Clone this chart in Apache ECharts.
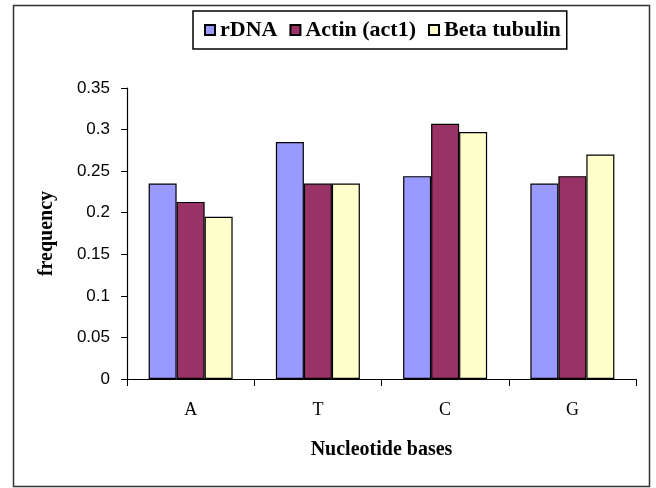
<!DOCTYPE html>
<html><head><meta charset="utf-8">
<script src="https://cdn.jsdelivr.net/npm/echarts@6/dist/echarts.min.js"></script>
<style>html,body{margin:0;padding:0;background:#fff}#c{width:656px;height:488px}</style>
</head><body><div id="c"></div>
<script>
const categories = ['A', 'T', 'C', 'G'];
const rDNA = [0.235, 0.285, 0.244, 0.235];
const actin = [0.213, 0.235, 0.307, 0.244];
const betaTubulin = [0.195, 0.235, 0.297, 0.270];
const seriesNames = ['rDNA', 'Actin (act1)', 'Beta tubulin'];

const chart = echarts.init(document.getElementById('c'));
const bar = (name, data, color) => ({
  name, type: 'bar', data, barGap: '0%', barCategoryGap: '34%',
  itemStyle: { color, borderColor: '#000', borderWidth: 1.2 }
});
chart.setOption({
  animation: false,
  backgroundColor: '#fff',
  graphic: [{
    type: 'rect', shape: { x: 13.5, y: 5.5, width: 636, height: 481 },
    style: { fill: 'none', stroke: '#333', lineWidth: 1.5 }, silent: true, z: -1
  }],
  legend: {
    left: 193, top: 11, padding: [8, 6, 8, 11],
    data: seriesNames.map(n => ({ name: n, icon: 'rect' })),
    itemWidth: 10, itemHeight: 10, itemGap: 12,
    borderColor: '#000', borderWidth: 1.5,
    textStyle: { fontFamily: 'Liberation Serif', fontWeight: 'bold', fontSize: 22, color: '#000' }
  },
  grid: { left: 127, right: 20, top: 88, bottom: 109 },
  xAxis: {
    type: 'category', data: categories,
    name: 'Nucleotide bases', nameLocation: 'middle', nameGap: 61,
    nameTextStyle: { fontFamily: 'Liberation Serif', fontWeight: 'bold', fontSize: 20, color: '#000' },
    axisLine: { lineStyle: { color: '#000', width: 1.2 } },
    axisTick: { show: true, length: 7, lineStyle: { color: '#000' } },
    axisLabel: { margin: 22, fontFamily: 'Liberation Serif', fontSize: 18, color: '#000' }
  },
  yAxis: {
    type: 'value', min: 0, max: 0.35, interval: 0.05,
    name: 'frequency', nameLocation: 'middle', nameGap: 70, nameRotate: 90,
    nameTextStyle: { fontFamily: 'Liberation Serif', fontWeight: 'bold', fontSize: 20, color: '#000' },
    axisLine: { show: true, lineStyle: { color: '#000', width: 1.2 } },
    axisTick: { show: true, length: 6, lineStyle: { color: '#000' } },
    splitLine: { show: false },
    axisLabel: { margin: 17, fontFamily: 'Liberation Sans', fontSize: 17, color: '#000' }
  },
  series: [
    bar(seriesNames[0], rDNA, '#9999FF'),
    bar(seriesNames[1], actin, '#993366'),
    bar(seriesNames[2], betaTubulin, '#FFFFCC')
  ]
});
</script></body></html>
